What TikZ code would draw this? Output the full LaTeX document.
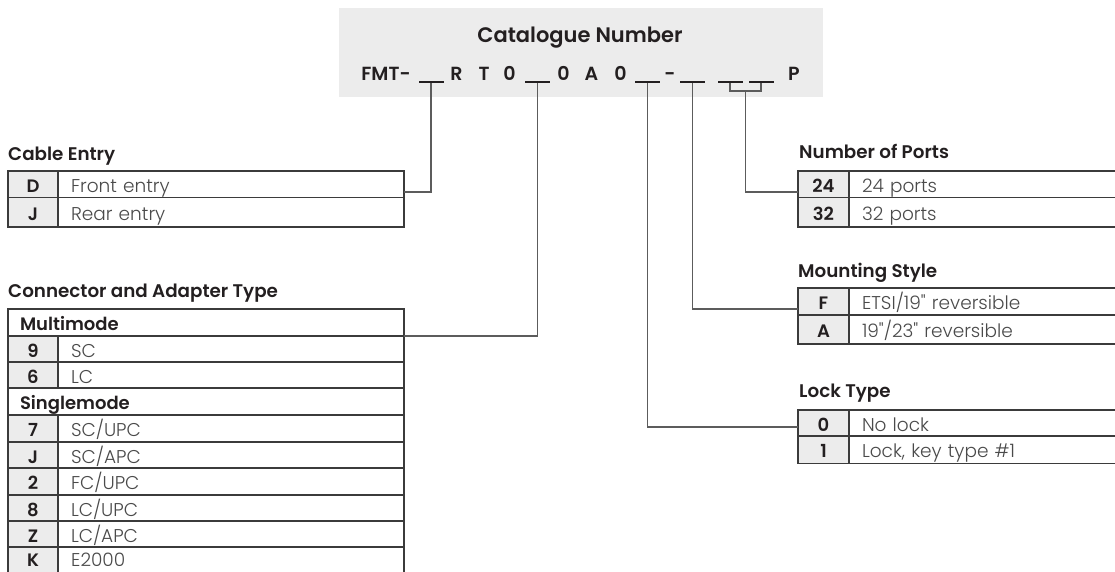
\documentclass[tikz,border=0pt]{standalone}
\usepackage{fontspec}
\setmainfont{Poppins}
\newfontfamily\lightfont{Poppins Light}
\newfontfamily\semifont{Poppins SemiBold}
\definecolor{ink}{HTML}{231F20}
\definecolor{desc}{HTML}{4A4A4A}
\definecolor{keybg}{HTML}{ECECEC}
\definecolor{boxbg}{HTML}{ECECEC}
\definecolor{tline}{HTML}{3B3B3B}
\definecolor{cline}{HTML}{5C5C5C}
\tikzset{
  tbl/.style={draw=tline, line width=1.3pt, inner sep=0pt, outer sep=0pt, anchor=north west},
  keyfont/.style={text=ink, font=\fontsize{18}{20}\selectfont\semifont},
  descfont/.style={text=desc, font=\fontsize{18.5}{20}\selectfont\lightfont},
  keycell/.style={tbl, fill=keybg, keyfont, text height=16pt, text depth=0pt},
  desccell/.style={tbl, fill=white, descfont, text height=16pt, text depth=0pt, align=left, inner xsep=13pt},
  hdrcell/.style={tbl, fill=white, text=ink, font=\fontsize{18}{20}\selectfont\semifont, text height=16pt, text depth=0pt, align=left, inner xsep=12pt, text width=372pt, minimum height=27pt},
  sect/.style={anchor=base west, inner sep=0pt, text=ink, font=\fontsize{18.3}{20}\selectfont\semifont},
  num/.style={anchor=base, inner sep=0pt, text=ink, font=\fontsize{19}{22}\selectfont\semifont},
  uline/.style={fill=ink, inner sep=0pt, outer sep=0pt, minimum width=25pt, minimum height=2.2pt},
  conn/.style={draw=cline, line width=1.4pt}
}
\newcommand\kr[8]{% name, x, y, h, key, desc, keywidth, descwidth
  \node[keycell, minimum width=#7pt, minimum height=#4pt] (#1k) at (#2,#3) {#5};
  \node[desccell, minimum height=#4pt, text width=#8pt] (#1d) at (#1k.north east) {#6};}
\begin{document}
\begin{tikzpicture}[x=1pt,y=-1pt]
\clip (0,0) rectangle (1115,571);
\fill[white] (0,0) rectangle (1115,571);
% header box
\node[fill=boxbg, inner sep=0pt, outer sep=0pt, minimum width=484pt, minimum height=89pt, anchor=north west] (hdr) at (339,8) {};
\node[anchor=base, inner sep=0pt, text=ink, font=\fontsize{21}{24}\selectfont\semifont] (ttl) at (580,42) {Catalogue Number};
\node[num] (nF) at (386,80) {FMT-};
\node[num] (nR) at (456.5,80) {R};
\node[num] (nT) at (484,80) {T};
\node[num] (n0a) at (509.5,80) {0};
\node[num] (n0b) at (563.5,80) {0};
\node[num] (nA) at (591.5,80) {A};
\node[num] (n0c) at (620.5,80) {0};
\node[num] (nD) at (670,80) {-};
\node[num] (nP) at (794,80) {P};
\node[uline] (ul1) at (431,81.7) {};
\node[uline] (ul2) at (537.5,81.7) {};
\node[uline] (ul3) at (647.5,81.7) {};
\node[uline] (ul4) at (692.5,81.7) {};
\node[uline] (ul5) at (730,81.7) {};
\node[uline] (ul6) at (761,81.7) {};
% Cable Entry
\node[sect] (ceT) at (8,160) {Cable Entry};
\kr{ce1}{8}{171}{26.5}{D}{Front entry}{50}{320}
\kr{ce2}{8}{197.5}{29.5}{J}{Rear entry}{50}{320}
% Connector and Adapter Type
\node[sect] (cmT) at (8,297) {Connector and Adapter Type};
\node[hdrcell] (cmM) at (8,309) {Multimode};
\kr{cm9}{8}{336}{26}{9}{SC}{50}{320}
\kr{cm6}{8}{362}{26}{6}{LC}{50}{320}
\node[hdrcell] (cmS) at (8,388) {Singlemode};
\kr{cm7}{8}{415}{27}{7}{SC/UPC}{50}{320}
\kr{cmJ}{8}{442}{26}{J}{SC/APC}{50}{320}
\kr{cm2}{8}{468}{27}{2}{FC/UPC}{50}{320}
\kr{cm8}{8}{495}{26}{8}{LC/UPC}{50}{320}
\kr{cmZ}{8}{521}{26}{Z}{LC/APC}{50}{320}
\kr{cmK}{8}{547}{28}{}{}{50}{320}
\node[keyfont, anchor=base, inner sep=0pt] (cmKt) at (33,566) {K};
\node[descfont, anchor=base west, inner sep=0pt] (cmKs) at (71,566) {E2000};
% Number of Ports
\node[sect] (npT) at (799,158) {Number of Ports};
\kr{np1}{798}{171}{26.5}{24}{24 ports}{51}{330}
\kr{np2}{798}{197.5}{29.5}{32}{32 ports}{51}{330}
% Mounting Style
\node[sect] (msT) at (798,277) {Mounting Style};
\kr{ms1}{798}{288}{27}{F}{ETSI/19" reversible}{51}{330}
\kr{ms2}{798}{315}{29}{A}{19"/23" reversible}{51}{330}
% Lock Type
\node[sect] (ltT) at (799,397) {Lock Type};
\kr{lt1}{798}{410}{26}{0}{No lock}{51}{330}
\kr{lt2}{798}{436}{27.5}{1}{Lock, key type \#1}{51}{330}
% connectors
\coordinate (ceIn) at (404,192);
\coordinate (npIn) at (798,192);
\coordinate (msIn) at (798,309);
\coordinate (ltIn) at (798,427);
\coordinate (brk) at (745.5,91);
\draw[conn] (ul1.south) |- (ceIn);
\draw[conn] (ul2.south) |- (cmM.south east);
\draw[conn] (ul3.south) |- (ltIn);
\draw[conn] (ul4.south) |- (msIn);
\draw[conn] (ul5.south) |- (brk) -| (ul6.south);
\draw[conn] (brk) |- (npIn);
\end{tikzpicture}
\end{document}
